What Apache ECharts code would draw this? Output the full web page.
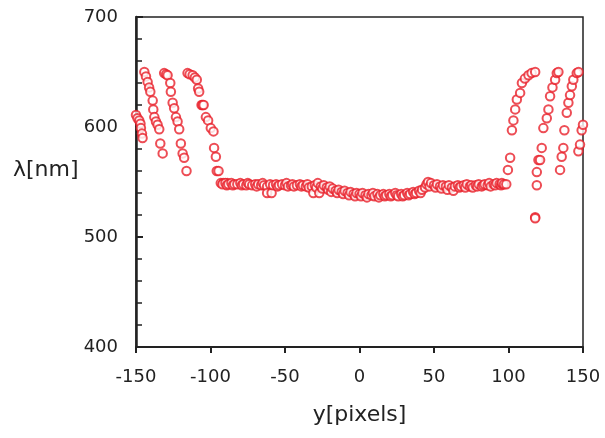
<!DOCTYPE html>
<html><head><meta charset="utf-8">
<script src="https://cdn.jsdelivr.net/npm/echarts@6/dist/echarts.min.js"></script>
<style>html,body{margin:0;padding:0;background:#fff}#c{width:605px;height:438px}</style>
</head><body><div id="c"></div>
<script>
// x ticks / y ticks
var xTicks = [-150, -100, -50, 0, 50, 100, 150];
var yTicks = [400, 500, 600, 700];
// left stripes [y(pixels), lambda(nm)]
var stripeA = [[-150,611],[-149,608],[-147.8,606],[-147,603],[-146.7,599],[-146,594],[-145.6,590]];
var stripeB = [[-144.4,650],[-143.3,646],[-142.2,641],[-141.2,636],[-140.4,632],[-138.8,624],[-138.4,616],[-137.7,609],[-136.6,605],[-135.5,602],[-134.4,598],[-133.7,585],[-132.1,576]];
var stripeC = [[-131.1,649],[-129.8,648],[-128.8,647],[-127,640],[-126.6,632],[-125.4,622],[-124.4,617],[-123.2,609],[-122.1,605],[-121,598],[-119.9,585],[-118.7,576],[-117.7,572],[-116.1,560]];
var stripeD = [[-115.4,649],[-114,648],[-112,647],[-110.5,645],[-109.2,643],[-108.3,635],[-107.6,632],[-106,620],[-105.3,620],[-104.6,620],[-103.1,609],[-101.6,606],[-99.8,599],[-98,596],[-97.6,581],[-96.4,573],[-95.8,560],[-94.6,560],[-93.1,549],[-91.5,549],[-89.5,548],[-88.6,549]];
// central plateau
var plateau = [[-92,548],[-90,549],[-89,547],[-88,548],[-86,549],[-85,547],[-84,548],[-82,548],[-80,549],[-79,547],[-78,548],[-76,547],[-75,549],[-74,548],[-72,547],[-70,548],[-69,546],[-68,548],[-66,547],[-65,549],[-64,547],[-62,546],[-62,540],[-60,548],[-59,540],[-58,547],[-56,548],[-55,546],[-54,547],[-52,548],[-50,547],[-49,549],[-48,546],[-46,547],[-45,548],[-44,546],[-42,547],[-40,548],[-39,546],[-38,547],[-36,546],[-35,548],[-34,545],[-32,546],[-31,540],[-30,547],[-29,545],[-28,549],[-27,540],[-26,546],[-25,544],[-24,547],[-22,545],[-21,543],[-20,546],[-19,541],[-18,544],[-16,542],[-15,540],[-14,543],[-12,541],[-11,539],[-10,542],[-8,540],[-7,538],[-6,541],[-4,539],[-3,537],[-2,540],[0,539],[1,537],[2,540],[4,538],[5,536],[6,539],[8,538],[9,540],[10,537],[12,539],[13,536],[14,538],[16,539],[17,537],[18,538],[20,539],[21,537],[22,538],[24,540],[25,538],[26,537],[28,539],[29,537],[30,538],[32,540],[33,538],[34,539],[36,541],[37,539],[38,540],[40,542],[41,540],[42,543],[44,545],[45,548],[46,550],[47,546],[48,549],[50,547],[51,545],[52,548],[54,546],[55,544],[56,547],[58,546],[59,543],[60,547],[62,545],[63,542],[64,546],[66,547],[67,545],[68,546],[70,547],[71,545],[72,548],[74,546],[75,547],[76,545],[78,547],[79,546],[80,548],[82,546],[83,547],[84,548],[86,547],[87,549],[88,546],[90,548],[91,547],[92,549],[94,548],[95,547],[96,548]];
// right stripes
var stripeE = [[95.6,549],[97,548],[98.5,548],[99.6,561],[101.1,572],[102.3,597],[103.3,606],[104.5,616],[105.6,625],[107.8,631],[109,640],[111,644],[113.4,647],[115.5,649],[117.9,650]];
var stripeF = [[117.9,518],[117.9,517],[119,547],[119,559],[120.1,570],[121.2,570],[122.3,581],[123.4,599],[125.7,608],[126.8,616],[127.9,628],[129.5,636],[131.3,643],[132.4,649],[133.5,650]];
var stripeG = [[134.6,561],[135.7,573],[136.8,581],[137.5,597],[139.1,613],[140.2,622],[141.3,629],[142.5,637],[143.5,643],[145.8,649],[147,650]];
var stripeH = [[146.9,578],[148,584],[149.1,597],[150,602]];
var yAxisTitle = 'λ[nm]';
var xAxisTitle = 'y[pixels]';

var points = [].concat(stripeA, stripeB, stripeC, stripeD, plateau, stripeE, stripeF, stripeG, stripeH);

var red = '#e8212b';
var ink = '#222222';
var font = 'DejaVu Sans';
var chart = echarts.init(document.getElementById('c'));
chart.setOption({
  animation: false,
  grid: {left: 136, right: 22, top: 17, bottom: 91, show: true, borderColor: ink, borderWidth: 1.5},
  graphic: [{
    type: 'text', left: 13, top: 159,
    style: {text: yAxisTitle, font: '22px "DejaVu Sans"', fill: ink}
  }],
  xAxis: {
    type: 'value', min: xTicks[0], max: xTicks[xTicks.length - 1], interval: 50,
    name: xAxisTitle, nameLocation: 'middle', nameGap: 57,
    nameTextStyle: {fontFamily: font, fontSize: 22, color: ink},
    axisLine: {show: true, onZero: false, lineStyle: {color: ink, width: 2}},
    axisTick: {show: true, length: 6, lineStyle: {color: ink, width: 2}},
    axisLabel: {margin: 21, fontFamily: font, fontSize: 18, color: ink},
    splitLine: {show: false}
  },
  yAxis: {
    type: 'value', min: yTicks[0], max: yTicks[yTicks.length - 1], interval: 100,
    axisLine: {show: true, onZero: false, lineStyle: {color: ink, width: 2.5}},
    axisTick: {show: true, inside: true, length: 7, lineStyle: {color: ink, width: 2}},
    minorTick: {show: true, splitNumber: 5, length: 6, lineStyle: {color: ink, width: 1.5}},
    axisLabel: {margin: 18, fontFamily: font, fontSize: 18, color: ink},
    splitLine: {show: false}
  },
  series: [{
    type: 'scatter',
    symbol: 'emptyCircle', symbolSize: 8.5,
    itemStyle: {color: red, borderColor: red, borderWidth: 2},
    data: points
  }]
});
</script></body></html>
